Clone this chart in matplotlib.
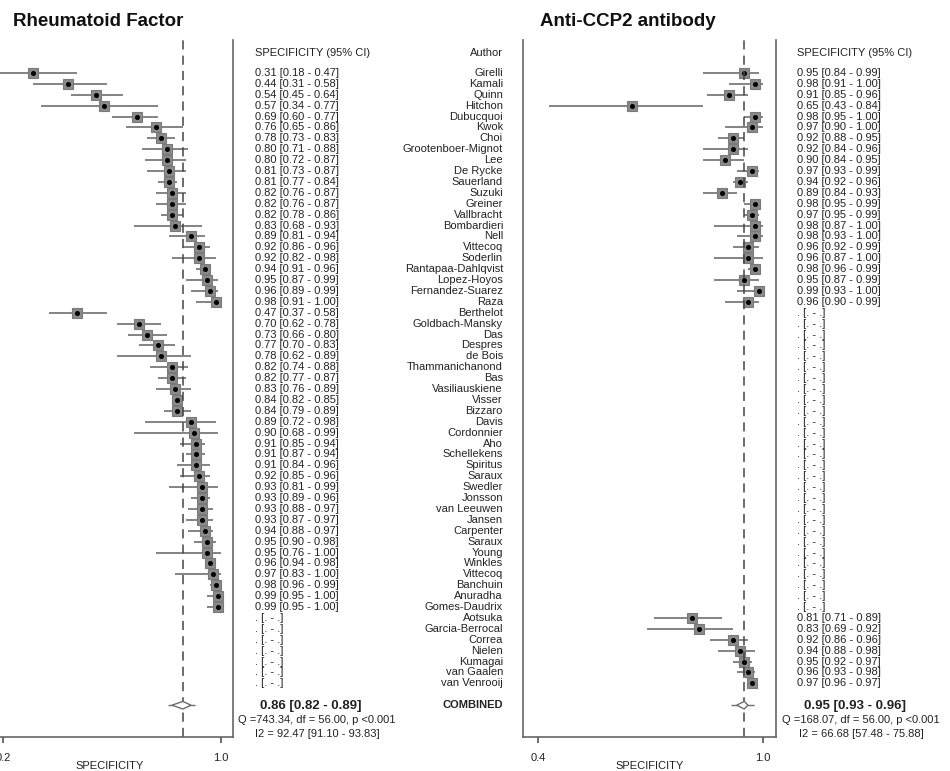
import numpy as np
import matplotlib
matplotlib.use("Agg")
import matplotlib.pyplot as plt
import matplotlib.transforms as mtransforms

plt.rcParams['font.family'] = ['Liberation Sans', 'DejaVu Sans']

W, H = 950, 771
nan = np.nan

authors = ["Girelli", "Kamali", "Quinn", "Hitchon", "Dubucquoi", "Kwok", "Choi",
           "Grootenboer-Mignot", "Lee", "De Rycke", "Sauerland", "Suzuki", "Greiner",
           "Vallbracht", "Bombardieri", "Nell", "Vittecoq", "Soderlin",
           "Rantapaa-Dahlqvist", "Lopez-Hoyos", "Fernandez-Suarez", "Raza",
           "Berthelot", "Goldbach-Mansky", "Das", "Despres", "de Bois",
           "Thammanichanond", "Bas", "Vasiliauskiene", "Visser", "Bizzaro", "Davis",
           "Cordonnier", "Aho", "Schellekens", "Spiritus", "Saraux", "Swedler",
           "Jonsson", "van Leeuwen", "Jansen", "Carpenter", "Saraux", "Young",
           "Winkles", "Vittecoq", "Banchuin", "Anuradha", "Gomes-Daudrix",
           "Aotsuka", "Garcia-Berrocal", "Correa", "Nielen", "Kumagai",
           "van Gaalen", "van Venrooij"]

# Rheumatoid factor specificity (nan = not reported)
rf_est = [0.31, 0.44, 0.54, 0.57, 0.69, 0.76, 0.78, 0.80, 0.80, 0.81, 0.81, 0.82,
          0.82, 0.82, 0.83, 0.89, 0.92, 0.92, 0.94, 0.95, 0.96, 0.98,
          0.47, 0.70, 0.73, 0.77, 0.78, 0.82, 0.82, 0.83, 0.84, 0.84, 0.89, 0.90,
          0.91, 0.91, 0.91, 0.92, 0.93, 0.93, 0.93, 0.93, 0.94, 0.95, 0.95, 0.96,
          0.97, 0.98, 0.99, 0.99] + [nan] * 7
rf_lo = [0.18, 0.31, 0.45, 0.34, 0.60, 0.65, 0.73, 0.71, 0.72, 0.73, 0.77, 0.76,
         0.76, 0.78, 0.68, 0.81, 0.86, 0.82, 0.91, 0.87, 0.89, 0.91,
         0.37, 0.62, 0.66, 0.70, 0.62, 0.74, 0.77, 0.76, 0.82, 0.79, 0.72, 0.68,
         0.85, 0.87, 0.84, 0.85, 0.81, 0.89, 0.88, 0.87, 0.88, 0.90, 0.76, 0.94,
         0.83, 0.96, 0.95, 0.95] + [nan] * 7
rf_hi = [0.47, 0.58, 0.64, 0.77, 0.77, 0.86, 0.83, 0.88, 0.87, 0.87, 0.84, 0.87,
         0.87, 0.86, 0.93, 0.94, 0.96, 0.98, 0.96, 0.99, 0.99, 1.00,
         0.58, 0.78, 0.80, 0.83, 0.89, 0.88, 0.87, 0.89, 0.85, 0.89, 0.98, 0.99,
         0.94, 0.94, 0.96, 0.96, 0.99, 0.96, 0.97, 0.97, 0.97, 0.98, 1.00, 0.98,
         1.00, 0.99, 1.00, 1.00] + [nan] * 7
rf_pooled = [0.86, 0.82, 0.89]
rf_q = "Q =743.34, df = 56.00, p <0.001"
rf_i2 = "I2 = 92.47 [91.10 - 93.83]"

# Anti-CCP2 specificity
ccp_est = [0.95, 0.98, 0.91, 0.65, 0.98, 0.97, 0.92, 0.92, 0.90, 0.97, 0.94, 0.89,
           0.98, 0.97, 0.98, 0.98, 0.96, 0.96, 0.98, 0.95, 0.99, 0.96] + [nan] * 28 + \
          [0.81, 0.83, 0.92, 0.94, 0.95, 0.96, 0.97]
ccp_lo = [0.84, 0.91, 0.85, 0.43, 0.95, 0.90, 0.88, 0.84, 0.84, 0.93, 0.92, 0.84,
          0.95, 0.95, 0.87, 0.93, 0.92, 0.87, 0.96, 0.87, 0.93, 0.90] + [nan] * 28 + \
         [0.71, 0.69, 0.86, 0.88, 0.92, 0.93, 0.96]
ccp_hi = [0.99, 1.00, 0.96, 0.84, 1.00, 1.00, 0.95, 0.96, 0.95, 0.99, 0.96, 0.93,
          0.99, 0.99, 1.00, 1.00, 0.99, 1.00, 0.99, 0.99, 1.00, 0.99] + [nan] * 28 + \
         [0.89, 0.92, 0.96, 0.98, 0.97, 0.98, 0.97]
ccp_pooled = [0.95, 0.93, 0.96]
ccp_q = "Q =168.07, df = 56.00, p <0.001"
ccp_i2 = "I2 = 66.68 [57.48 - 75.88]"

fig = plt.figure(figsize=(W / 100, H / 100), dpi=100)

rows = np.arange(len(authors))
comb_row = len(authors) + 1
FRAME_TOP, FRAME_BOT = 40, 737
ROW0, STEP = 73, 10.9
ylim = ((FRAME_BOT - ROW0) / STEP, (FRAME_TOP - ROW0) / STEP)
txt_col = '#222222'
grey = '#6e6e6e'


def px_rect(x0, x1):
    return [x0 / W, (H - FRAME_BOT) / H, (x1 - x0) / W, (FRAME_BOT - FRAME_TOP) / H]


def panel(x0, x1, xlim, ticks, est, lo, hi, pooled, q, i2, col_x, stat_x, title, title_x):
    ax = fig.add_axes(px_rect(x0, x1))
    est = np.array(est); lo = np.array(lo); hi = np.array(hi)
    ok = ~np.isnan(est)
    ax.hlines(rows[ok], lo[ok], hi[ok], color=grey, lw=1.2)
    ax.plot(est[ok], rows[ok], 's', ms=7, mfc='#8a8a8a', mec='#7a7a7a', mew=0.8)
    ax.plot(est[ok], rows[ok], 'o', ms=2.6, color='black')
    ax.axvline(pooled[0], color='#444444', lw=1.1, ls=(0, (6, 4)))
    d = 0.35
    ax.fill([pooled[1], pooled[0], pooled[2], pooled[0]],
            [comb_row, comb_row - d, comb_row, comb_row + d],
            facecolor='white', edgecolor=grey, lw=1.0, zorder=3)
    ax.hlines(comb_row, pooled[1] - 0.015, pooled[2] + 0.015, color=grey, lw=1.0, zorder=2)
    ax.set_xlim(*xlim)
    ax.set_ylim(*ylim)
    ax.set_yticks([])
    ax.set_xticks(ticks)
    ax.set_xticklabels([f"{t:.1f}" for t in ticks])
    ax.tick_params(axis='x', length=4.5, width=1.1, pad=7, labelsize=8,
                   colors='#444444', labelcolor=txt_col)
    ax.spines['top'].set_visible(False)
    for s in ['left', 'right', 'bottom']:
        ax.spines[s].set_color('#666666')
        ax.spines[s].set_linewidth(1.2)
    ax.set_xlabel("SPECIFICITY", fontsize=8, color=txt_col)
    ax.xaxis.set_label_coords(0.5, -29 / (FRAME_BOT - FRAME_TOP))
    ax.xaxis.label.set_va('center')

    tr = mtransforms.blended_transform_factory(fig.transFigure, ax.transData)
    fig.text(col_x / W, (53 - ROW0) / STEP, "SPECIFICITY (95% CI)", transform=tr,
             fontsize=8, color=txt_col, va='center', ha='left')
    for r, e, l, h in zip(rows, est, lo, hi):
        s = ". [. - .]" if np.isnan(e) else f"{e:.2f} [{l:.2f} - {h:.2f}]"
        fig.text(col_x / W, r, s, transform=tr, fontsize=8, color=txt_col,
                 va='center', ha='left')
    fig.text(stat_x / W, comb_row + 0.1, f"{pooled[0]:.2f} [{pooled[1]:.2f} - {pooled[2]:.2f}]",
             transform=tr, fontsize=9.5, fontweight='bold', color=txt_col,
             va='center', ha='center')
    fig.text((stat_x + 6) / W, comb_row + 1.35, q, transform=tr, fontsize=8,
             color=txt_col, va='center', ha='center')
    fig.text((stat_x + 6) / W, comb_row + 2.6, i2, transform=tr, fontsize=8,
             color=txt_col, va='center', ha='center')
    fig.text(title_x / W, 1 - 22 / H, title, fontsize=13.5, fontweight='bold',
             color='#111111', va='center', ha='left')
    return ax


ax1 = panel(-14, 233, (0.2 - 17 / 272.5, 1.0 + 12 / 272.5), [0.2, 1.0],
            rf_est, rf_lo, rf_hi, rf_pooled, rf_q, rf_i2, 255, 311,
            "Rheumatoid Factor", 13)
ax2 = panel(523, 776, (0.36, 1.0347), [0.4, 1.0],
            ccp_est, ccp_lo, ccp_hi, ccp_pooled, ccp_q, ccp_i2, 797, 855,
            "Anti-CCP2 antibody", 540)

tr2 = mtransforms.blended_transform_factory(fig.transFigure, ax2.transData)
fig.text(503 / W, (53 - ROW0) / STEP, "Author", transform=tr2, fontsize=8,
         color=txt_col, va='center', ha='right')
for r, name in zip(rows, authors):
    fig.text(503 / W, r, name, transform=tr2, fontsize=8, color=txt_col,
             va='center', ha='right')
fig.text(503 / W, comb_row, "COMBINED", transform=tr2, fontsize=8,
         fontweight='bold', color=txt_col, va='center', ha='right')

fig.savefig("out.png", dpi=100)
